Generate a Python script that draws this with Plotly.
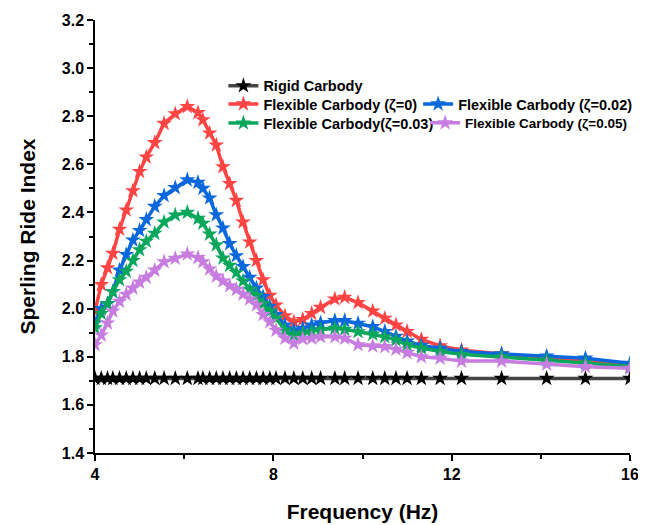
import plotly.graph_objects as go

# frequency points (Hz), shared by all series
freq = [4.00, 4.14, 4.28, 4.40, 4.55, 4.70, 4.85, 5.00, 5.15, 5.34, 5.55, 5.80, 6.07,
        6.31, 6.42, 6.57, 6.72, 6.87, 7.02, 7.17, 7.32, 7.47, 7.62, 7.77, 7.92, 8.06,
        8.26, 8.46, 8.66, 8.86, 9.06, 9.38, 9.60, 9.90, 10.23, 10.50, 10.75, 11.00,
        11.32, 11.74, 12.22, 13.12, 14.13, 15.00, 16.00]

rigid = [1.71, 1.71, 1.71, 1.71, 1.71, 1.71, 1.71, 1.71, 1.71, 1.71, 1.71, 1.71, 1.71,
         1.71, 1.71, 1.71, 1.71, 1.71, 1.71, 1.71, 1.71, 1.71, 1.71, 1.71, 1.71, 1.71,
         1.71, 1.71, 1.71, 1.71, 1.71, 1.71, 1.71, 1.71, 1.71, 1.71, 1.71, 1.71,
         1.71, 1.71, 1.71, 1.71, 1.71, 1.71, 1.71]

flex_z0 = [1.99, 2.10, 2.17, 2.23, 2.33, 2.41, 2.49, 2.57, 2.63, 2.69, 2.77, 2.81, 2.84,
           2.815, 2.785, 2.73, 2.68, 2.59, 2.52, 2.45, 2.36, 2.277, 2.20, 2.12, 2.055, 2.015,
           1.97, 1.945, 1.955, 1.98, 2.005, 2.04, 2.047, 2.025, 1.99, 1.96, 1.932, 1.905,
           1.872, 1.845, 1.828, 1.812, 1.797, 1.783, 1.762]

flex_z002 = [1.94, 2.00, 2.02, 2.07, 2.16, 2.225, 2.285, 2.325, 2.37, 2.425, 2.47, 2.503, 2.535,
             2.525, 2.50, 2.46, 2.39, 2.335, 2.27, 2.22, 2.175, 2.13, 2.085, 2.05, 2.01, 1.975,
             1.932, 1.911, 1.918, 1.932, 1.941, 1.950, 1.950, 1.939, 1.925, 1.905, 1.885, 1.865,
             1.847, 1.835, 1.822, 1.812, 1.803, 1.794, 1.773]

flex_z003 = [1.92, 1.98, 2.02, 2.07, 2.12, 2.155, 2.20, 2.245, 2.28, 2.313, 2.36, 2.389, 2.40,
             2.375, 2.355, 2.31, 2.265, 2.21, 2.18, 2.15, 2.115, 2.08, 2.055, 2.02, 1.99, 1.96,
             1.911, 1.890, 1.897, 1.904, 1.913, 1.918, 1.914, 1.904, 1.894, 1.883, 1.870, 1.850,
             1.836, 1.822, 1.810, 1.800, 1.786, 1.774, 1.758]

flex_z005 = [1.85, 1.89, 1.94, 1.99, 2.03, 2.06, 2.085, 2.11, 2.13, 2.16, 2.195, 2.209, 2.227,
             2.212, 2.195, 2.165, 2.135, 2.115, 2.095, 2.08, 2.06, 2.04, 2.015, 1.975, 1.945, 1.91,
             1.877, 1.856, 1.875, 1.877, 1.883, 1.883, 1.877, 1.850, 1.845, 1.842, 1.831, 1.817,
             1.800, 1.794, 1.782, 1.782, 1.769, 1.759, 1.752]

FONT = "Arial, Liberation Sans, sans-serif"

# name, values, line colour, marker colour, legend id
series = [
    ("Rigid Carbody", rigid, "#444444", "black", "legend"),
    ("Flexible Carbody (ζ=0)", flex_z0, "#FF4444", "#FF4444", "legend2"),
    ("Flexible Carbody (ζ=0.02)", flex_z002, "#0A68DC", "#0A68DC", "legend3"),
    ("Flexible Carbody(ζ=0.03)", flex_z003, "#0AA65C", "#0AA65C", "legend4"),
    ("Flexible Carbody (ζ=0.05)", flex_z005, "#C77DE0", "#C77DE0", "legend5"),
]

fig = go.Figure()
for name, vals, lc, mc, leg in series:
    fig.add_trace(go.Scatter(
        x=freq, y=vals, name=name, mode="lines+markers", legend=leg, showlegend=True,
        line=dict(color=lc, width=3.5),
        marker=dict(symbol="star", size=12, color=mc, line=dict(width=0)),
    ))


def leg(x, y, size=14.5):
    return dict(visible=True, x=x, y=y, xanchor="left", yanchor="middle",
                font=dict(family=FONT, size=size, color="black", weight="bold"),
                orientation="h", bgcolor="rgba(0,0,0,0)", itemwidth=30)


# the page body has an 8px margin, so the figure is sized to the visible area
fig.update_layout(
    width=638, height=517,
    margin=dict(l=87, r=16, t=12, b=72, autoexpand=False),
    paper_bgcolor="white", plot_bgcolor="white",
    font=dict(family=FONT, color="black"),
    showlegend=True,
    legend=leg(0.24, 0.848),
    legend2=leg(0.24, 0.806),
    legend3=leg(0.604, 0.806),
    legend4=leg(0.24, 0.762),
    legend5=leg(0.617, 0.762, 13.5),
)

fig.update_xaxes(
    range=[4, 16], dtick=4, tick0=4, showgrid=False, zeroline=False, automargin=False,
    showline=True, linecolor="black", linewidth=1.5,
    ticks="outside", ticklen=6, tickwidth=1.5, tickcolor="black",
    minor=dict(dtick=2, ticks="outside", ticklen=4, tickwidth=1.5, tickcolor="black"),
    tickfont=dict(family=FONT, size=16, color="black", weight="bold"),
    title=dict(text="Frequency (Hz)", standoff=22,
               font=dict(family=FONT, size=21, color="black", weight="bold")),
)
fig.update_yaxes(
    range=[1.4, 3.2], dtick=0.2, tick0=1.4, tickformat=".1f", showgrid=False, zeroline=False,
    automargin=False, showline=True, linecolor="black", linewidth=1.5,
    ticks="outside", ticklen=6, tickwidth=1.5, tickcolor="black",
    minor=dict(dtick=0.1, ticks="outside", ticklen=4, tickwidth=1.5, tickcolor="black"),
    tickfont=dict(family=FONT, size=16, color="black", weight="bold"),
    title=dict(text="Sperling Ride Index", standoff=20,
               font=dict(family=FONT, size=21, color="black", weight="bold")),
)

fig.write_html("out.html")
